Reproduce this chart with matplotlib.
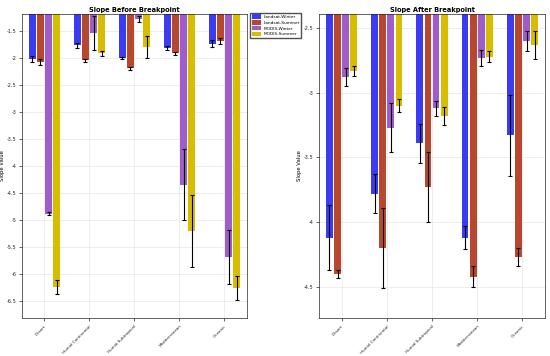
import numpy as np
import matplotlib
matplotlib.use('Agg')
import matplotlib.pyplot as plt

# climate zones and series
zones = ['Desert', 'Humid Continental', 'Humid Subtropical', 'Mediterranean', 'Oceanic']
series = ['Landsat-Winter', 'Landsat-Summer', 'MODIS-Winter', 'MODIS-Summer']
colors = ['#3b3bf2', '#b8472f', '#a05cc8', '#d8bc00']

# slope before breakpoint (rows = zones, cols = series)
before = [[-2.02, -2.07, -4.88, -6.24],
          [-1.76, -2.04, -1.53, -1.91],
          [-1.99, -2.19, -1.27, -1.79],
          [-1.81, -1.91, -4.34, -5.20],
          [-1.73, -1.68, -5.69, -6.26]]
before_err = [[0.06, 0.05, 0.03, 0.13],
              [0.05, 0.03, 0.31, 0.05],
              [0.02, 0.02, 0.06, 0.20],
              [0.03, 0.03, 0.65, 0.67],
              [0.06, 0.05, 0.50, 0.22]]

# slope after breakpoint
after = [[-4.12, -4.40, -2.88, -2.83],
         [-3.78, -4.20, -3.27, -3.10],
         [-3.39, -3.73, -3.12, -3.18],
         [-4.12, -4.42, -2.73, -2.72],
         [-3.33, -4.27, -2.60, -2.63]]
after_err = [[0.25, 0.03, 0.07, 0.04],
             [0.15, 0.31, 0.19, 0.05],
             [0.15, 0.27, 0.06, 0.07],
             [0.09, 0.08, 0.06, 0.04],
             [0.31, 0.07, 0.08, 0.11]]

offsets = [-0.27, -0.09, 0.09, 0.27]
width = 0.15

fig = plt.figure(figsize=(5.5, 3.56), dpi=100)
ax1 = fig.add_axes([0.040, 0.107, 0.409, 0.854])
ax2 = fig.add_axes([0.580, 0.107, 0.411, 0.854])


def draw(ax, vals, errs, title, ylim, yticks):
    vals = np.array(vals)
    errs = np.array(errs)
    x = np.arange(1, len(zones) + 1)
    handles = []
    for i in range(len(series)):
        h = ax.bar(x + offsets[i], vals[:, i], width, color=colors[i],
                   label=series[i], zorder=2)
        ax.errorbar(x + offsets[i], vals[:, i], yerr=errs[:, i], fmt='none',
                    ecolor='black', elinewidth=0.8, capsize=1.5, capthick=0.8,
                    zorder=3)
        handles.append(h)
    ax.set_xlim(0.5, 5.5)
    ax.set_ylim(*ylim)
    ax.set_yticks(yticks)
    ax.set_yticklabels(['%g' % t for t in yticks])
    ax.set_xticks(x)
    ax.set_xticklabels(zones, rotation=45, ha='right', rotation_mode='anchor')
    ax.tick_params(labelsize=3.6, length=2, width=0.5, colors='#262626', pad=2)
    ax.tick_params(axis='x', labelsize=3.0, pad=2.5)
    ax.grid(True, color='#e6e6e6', linewidth=0.5, zorder=0)
    ax.set_axisbelow(True)
    for s in ax.spines.values():
        s.set_linewidth(0.5)
        s.set_color('#262626')
    ax.set_title(title, fontsize=4.8, fontweight='bold', pad=1.5)
    ax.set_ylabel('Slope Value', fontsize=3.8, labelpad=1)
    return handles


handles = draw(ax1, before, before_err, 'Slope Before Breakpoint',
               (-6.81, -1.18), [-6.5, -6, -5.5, -5, -4.5, -4, -3.5, -3, -2.5, -2, -1.5])
draw(ax2, after, after_err, 'Slope After Breakpoint',
     (-4.74, -2.39), [-4.5, -4, -3.5, -3, -2.5])

fig.legend(handles, series, loc='upper left', bbox_to_anchor=(0.455, 0.963),
           fontsize=3.1, frameon=True, fancybox=False, edgecolor='#262626',
           handlelength=2.3, handleheight=1.2, borderpad=0.3, labelspacing=0.25,
           handletextpad=0.4, borderaxespad=0)

plt.savefig('out.png', dpi=100)
